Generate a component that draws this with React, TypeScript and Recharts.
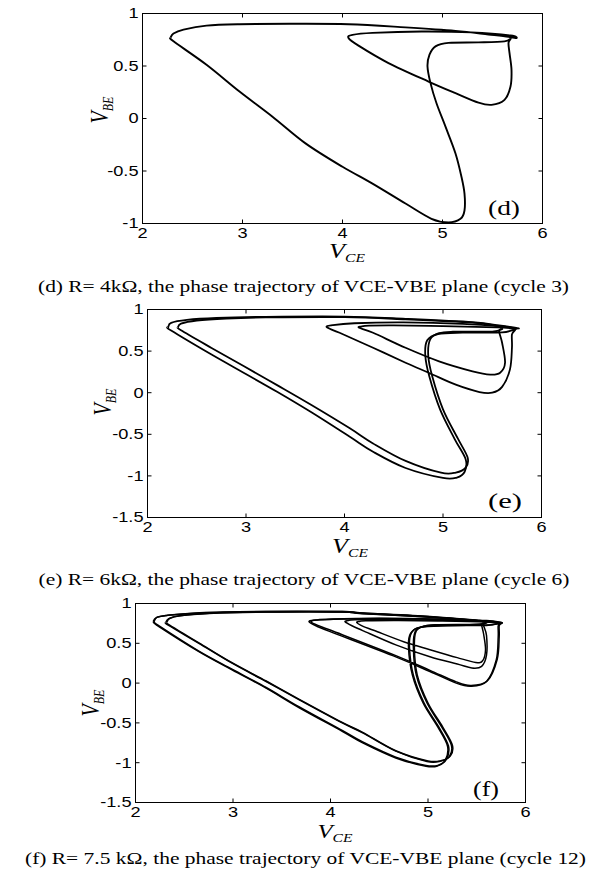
import { LineChart, Line, XAxis, YAxis } from "recharts";

// panel (d): R = 4k, cycle 3 — one closed orbit
const dX = [2.28, 2.31, 2.41, 2.64, 2.97, 3.47, 4.06, 4.63, 5.13, 5.46, 5.66, 5.74, 5.68, 5.29, 4.79, 4.3, 4.1, 4.06, 4.16, 4.46, 4.86, 5.13, 5.36, 5.49, 5.62, 5.68, 5.69, 5.67, 5.66, 5.68, 5.62, 5.36, 5.06, 4.93, 4.87, 4.85, 4.88, 4.94, 5.03, 5.13, 5.19, 5.22, 5.22, 5.18, 5.06, 4.89, 4.63, 4.3, 4.0, 3.63, 3.3, 2.97, 2.64, 2.31, 2.28];
const dY = [0.77, 0.81, 0.847, 0.885, 0.898, 0.902, 0.898, 0.868, 0.835, 0.8, 0.778, 0.765, 0.79, 0.82, 0.828, 0.815, 0.796, 0.767, 0.694, 0.528, 0.352, 0.241, 0.151, 0.13, 0.177, 0.304, 0.464, 0.624, 0.72, 0.76, 0.735, 0.725, 0.72, 0.687, 0.608, 0.496, 0.337, 0.145, -0.078, -0.333, -0.557, -0.716, -0.876, -0.955, -0.99, -0.955, -0.81, -0.62, -0.46, -0.237, 0.017, 0.257, 0.512, 0.735, 0.77];

// panel (e): R = 6k, cycle 6 — two passes
const eAX = [2.21, 2.24, 2.4, 2.7, 3.2, 4.0, 4.62, 5.3, 5.57, 5.77, 5.62, 5.2, 4.6, 4.1, 3.88, 3.82, 3.95, 4.29, 4.62, 4.86, 5.13, 5.37, 5.5, 5.6, 5.68, 5.7, 5.7, 5.73, 5.6, 5.2, 4.95, 4.84, 4.82, 4.86, 4.97, 5.12, 5.23, 5.22, 5.14, 5.0, 4.62, 4.29, 4.05, 3.66, 3.32, 2.98, 2.65, 2.24, 2.21];
const eAY = [0.787, 0.84, 0.875, 0.898, 0.912, 0.915, 0.888, 0.848, 0.808, 0.772, 0.795, 0.828, 0.845, 0.835, 0.812, 0.787, 0.72, 0.54, 0.36, 0.237, 0.096, 0.008, 0.0, 0.07, 0.28, 0.54, 0.7, 0.76, 0.725, 0.722, 0.705, 0.63, 0.45, 0.2, -0.2, -0.56, -0.8, -0.95, -1.02, -1.025, -0.905, -0.71, -0.527, -0.233, 0.008, 0.237, 0.458, 0.747, 0.787];
const eBX = [2.31, 2.34, 2.5, 2.8, 3.2, 4.0, 4.62, 5.3, 5.57, 5.75, 5.55, 5.0, 4.5, 4.25, 4.17, 4.15, 4.29, 4.62, 4.96, 5.3, 5.48, 5.58, 5.63, 5.6, 5.57, 5.6, 5.5, 5.1, 4.96, 4.87, 4.85, 4.89, 5.0, 5.15, 5.25, 5.23, 5.13, 4.98, 4.62, 4.29, 4.05, 3.66, 3.32, 2.98, 2.65, 2.34, 2.31];
const eBY = [0.787, 0.83, 0.868, 0.892, 0.905, 0.908, 0.882, 0.842, 0.802, 0.768, 0.785, 0.8, 0.808, 0.805, 0.795, 0.78, 0.72, 0.54, 0.377, 0.257, 0.217, 0.24, 0.36, 0.6, 0.74, 0.765, 0.735, 0.733, 0.715, 0.64, 0.45, 0.2, -0.2, -0.55, -0.78, -0.9, -0.96, -0.962, -0.82, -0.61, -0.425, -0.145, 0.088, 0.317, 0.538, 0.75, 0.787];

// panel (f): R = 7.5k, cycle 12 — four passes
const fAX = [2.18, 2.21, 2.31, 2.65, 3.34, 4.12, 4.33, 5.02, 5.53, 5.76, 5.6, 5.1, 4.5, 4.0, 3.83, 3.78, 3.85, 3.99, 4.67, 5.02, 5.29, 5.44, 5.6, 5.7, 5.72, 5.72, 5.74, 5.6, 5.2, 4.92, 4.82, 4.8, 4.84, 4.95, 5.1, 5.2, 5.18, 5.1, 4.98, 4.67, 4.33, 4.12, 3.68, 3.34, 2.99, 2.65, 2.24, 2.18];
const fAY = [0.77, 0.82, 0.848, 0.882, 0.898, 0.898, 0.88, 0.835, 0.785, 0.755, 0.78, 0.8, 0.81, 0.8, 0.79, 0.77, 0.72, 0.65, 0.33, 0.145, 0.0, -0.04, 0.02, 0.29, 0.58, 0.72, 0.75, 0.725, 0.72, 0.7, 0.62, 0.45, 0.1, -0.25, -0.55, -0.79, -0.96, -1.04, -1.045, -0.94, -0.75, -0.605, -0.31, -0.063, 0.166, 0.395, 0.71, 0.77];
const fDX = [2.19, 2.22, 2.32, 2.66, 3.34, 4.12, 4.33, 5.02, 5.53, 5.76, 5.6, 5.1, 4.5, 4.0, 3.85, 3.8, 3.87, 4.01, 4.67, 5.02, 5.29, 5.44, 5.61, 5.71, 5.73, 5.73, 5.75, 5.6, 5.2, 4.93, 4.83, 4.81, 4.85, 4.96, 5.11, 5.21, 5.19, 5.11, 4.98, 4.67, 4.33, 4.12, 3.68, 3.34, 2.99, 2.65, 2.25, 2.19];
const fDY = [0.772, 0.825, 0.85, 0.884, 0.9, 0.9, 0.882, 0.838, 0.788, 0.758, 0.785, 0.805, 0.815, 0.805, 0.792, 0.772, 0.725, 0.66, 0.345, 0.16, 0.015, -0.03, 0.03, 0.3, 0.58, 0.72, 0.752, 0.73, 0.725, 0.705, 0.63, 0.45, 0.1, -0.25, -0.55, -0.79, -0.955, -1.03, -1.035, -0.93, -0.74, -0.595, -0.3, -0.055, 0.175, 0.402, 0.712, 0.772];
const fBX = [2.31, 2.34, 2.45, 2.75, 3.34, 4.12, 4.33, 5.02, 5.53, 5.74, 5.55, 5.1, 4.6, 4.25, 4.18, 4.15, 4.22, 4.33, 4.67, 5.02, 5.3, 5.45, 5.55, 5.6, 5.6, 5.57, 5.6, 5.5, 5.1, 4.96, 4.87, 4.85, 4.88, 4.99, 5.14, 5.24, 5.22, 5.13, 4.99, 4.67, 4.33, 4.12, 3.68, 3.34, 2.99, 2.65, 2.34, 2.31];
const fBY = [0.76, 0.81, 0.845, 0.875, 0.892, 0.892, 0.872, 0.828, 0.78, 0.752, 0.775, 0.79, 0.8, 0.795, 0.785, 0.77, 0.72, 0.66, 0.48, 0.33, 0.24, 0.19, 0.21, 0.35, 0.6, 0.73, 0.755, 0.735, 0.73, 0.715, 0.65, 0.45, 0.1, -0.25, -0.55, -0.78, -0.92, -0.98, -0.985, -0.855, -0.625, -0.5, -0.21, 0.02, 0.25, 0.5, 0.725, 0.76];
const fCX = [2.32, 2.35, 2.46, 2.76, 3.34, 4.12, 4.33, 5.02, 5.53, 5.745, 5.55, 5.1, 4.7, 4.36, 4.3, 4.27, 4.34, 4.45, 4.75, 5.02, 5.3, 5.49, 5.56, 5.59, 5.57, 5.55, 5.58, 5.5, 5.1, 4.97, 4.88, 4.86, 4.89, 5.0, 5.15, 5.25, 5.23, 5.14, 5.0, 4.67, 4.33, 4.12, 3.68, 3.34, 2.99, 2.65, 2.35, 2.32];
const fCY = [0.762, 0.812, 0.847, 0.877, 0.894, 0.894, 0.874, 0.83, 0.782, 0.754, 0.77, 0.78, 0.785, 0.782, 0.775, 0.76, 0.71, 0.66, 0.52, 0.42, 0.32, 0.26, 0.28, 0.42, 0.62, 0.74, 0.756, 0.738, 0.733, 0.718, 0.655, 0.45, 0.1, -0.25, -0.55, -0.78, -0.915, -0.972, -0.978, -0.85, -0.618, -0.494, -0.204, 0.026, 0.256, 0.506, 0.728, 0.762];

const xTicks = [2, 3, 4, 5, 6];
const yTicksD = [-1, -0.5, 0, 0.5, 1];
const yTicksEF = [-1.5, -1, -0.5, 0, 0.5, 1];

const captionD = "(d) R= 4k\u03a9, the phase trajectory of VCE-VBE plane (cycle 3)";
const captionE = "(e) R= 6k\u03a9, the phase trajectory of VCE-VBE plane (cycle 6)";
const captionF = "(f) R= 7.5 k\u03a9, the phase trajectory of VCE-VBE plane (cycle 12)";

const zip = (xs: number[], ys: number[]) => xs.map((x, i) => ({ x, y: ys[i] }));

const serif = "'Liberation Serif', 'Times New Roman', serif";
const sans = "'Liberation Sans', Arial, Helvetica, sans-serif";

// plot boxes in page pixels (half-pixel edges keep 1px lines crisp)
const boxD = { l: 142.5, r: 542.5, t: 13.5, b: 223.5 };
const boxE = { l: 147.5, r: 541.5, t: 309.5, b: 517.5 };
const boxF = { l: 135.5, r: 525.5, t: 603.5, b: 802.5 };

// catmull-rom curve so the orbits come out smooth like the matlab trace
function smoothCurve(context: any) {
  let pts: number[][] = [];
  return {
    areaStart() {},
    areaEnd() {},
    lineStart() {
      pts = [];
    },
    lineEnd() {
      if (!pts.length) return;
      context.moveTo(pts[0][0], pts[0][1]);
      for (let i = 0; i < pts.length - 1; i++) {
        const p0 = pts[i - 1] || pts[i];
        const p1 = pts[i];
        const p2 = pts[i + 1];
        const p3 = pts[i + 2] || p2;
        context.bezierCurveTo(
          p1[0] + (p2[0] - p0[0]) / 6,
          p1[1] + (p2[1] - p0[1]) / 6,
          p2[0] - (p3[0] - p1[0]) / 6,
          p2[1] - (p3[1] - p1[1]) / 6,
          p2[0],
          p2[1]
        );
      }
    },
    point(x: number, y: number) {
      pts.push([+x, +y]);
    },
  };
}

function Tick(props: any) {
  const { x, y, payload, anchor, dy } = props;
  return (
    <text
      transform={`translate(${x},${y}) scale(1.3,1)`}
      textAnchor={anchor}
      dy={dy}
      fontFamily={sans}
      fontSize={14}
      fill="#000"
    >
      {payload.value}
    </text>
  );
}

type Box = { l: number; r: number; t: number; b: number };

type PanelProps = {
  top: number;
  box: Box;
  yDomain: [number, number];
  yTicks: number[];
  loops: { x: number; y: number }[][];
  sw: number;
};

function Panel({ top, box, yDomain, yTicks, loops, sw }: PanelProps) {
  const b = box.b - top;
  return (
    <div style={{ position: "absolute", left: 0, top }}>
      <LineChart
        width={599}
        height={b + 30}
        margin={{ top: box.t - top, right: 599 - box.r, left: 0, bottom: 0 }}
      >
        <XAxis
          dataKey="x"
          type="number"
          domain={[2, 6]}
          allowDataOverflow
          ticks={xTicks}
          interval={0}
          height={30}
          tickSize={-4}
          tickMargin={9}
          stroke="#000"
          tick={(p: any) => <Tick {...p} anchor="middle" dy="0.71em" />}
        />
        <YAxis
          type="number"
          domain={yDomain}
          allowDataOverflow
          ticks={yTicks}
          interval={0}
          width={box.l}
          tickSize={-4}
          tickMargin={8}
          stroke="#000"
          tick={(p: any) => <Tick {...p} anchor="end" dy="0.35em" />}
        />
        {loops.map((pts, i) => (
          <Line
            key={i}
            data={pts}
            dataKey="y"
            type={smoothCurve as any}
            stroke="#000"
            strokeWidth={sw}
            strokeLinejoin="round"
            dot={false}
            activeDot={false}
            isAnimationActive={false}
          />
        ))}
      </LineChart>
    </div>
  );
}

// matlab box outline with inward ticks on the top and right edges
function Frame({ box, yDomain, yTicks }: { box: Box; yDomain: [number, number]; yTicks: number[] }) {
  const [y0, y1] = yDomain;
  const px = (v: number) => box.l + ((v - 2) / 4) * (box.r - box.l);
  const py = (v: number) => box.t + ((y1 - v) / (y1 - y0)) * (box.b - box.t);
  const ticks =
    xTicks.map((t) => `M${px(t)},${box.t}v4`).join("") +
    yTicks.map((t) => `M${box.r},${py(t)}h-4`).join("");
  return (
    <g>
      <rect
        x={box.l}
        y={box.t}
        width={box.r - box.l}
        height={box.b - box.t}
        fill="none"
        stroke="#000"
        strokeWidth={1}
      />
      <path d={ticks} fill="none" stroke="#000" strokeWidth={1} />
    </g>
  );
}

function AxisNames({ cx, by, yx, yy, fs }: { cx: number; by: number; yx: number; yy: number; fs: number }) {
  return (
    <g fontFamily={serif} fontStyle="italic" fill="#000">
      <text transform={`translate(${cx},${by}) scale(1.3,1)`} textAnchor="middle" fontSize={fs}>
        V<tspan fontSize={12} dy={4}>CE</tspan>
      </text>
      <text transform={`translate(${yx},${yy}) scale(1.3,1) rotate(-90)`} textAnchor="middle" dy="0.35em" fontSize={20}>
        V<tspan fontSize={12} dy={4}>BE</tspan>
      </text>
    </g>
  );
}

export default function App() {
  return (
    <div style={{ position: "absolute", left: 0, top: 0, width: 599, height: 877, background: "#fff" }}>
      <Panel top={0} box={boxD} yDomain={[-1, 1]} yTicks={yTicksD} loops={[zip(dX, dY)]} sw={1.9} />
      <Panel
        top={295}
        box={boxE}
        yDomain={[-1.5, 1]}
        yTicks={yTicksEF}
        loops={[zip(eAX, eAY), zip(eBX, eBY)]}
        sw={1.8}
      />
      <Panel
        top={590}
        box={boxF}
        yDomain={[-1.5, 1]}
        yTicks={yTicksEF}
        loops={[zip(fAX, fAY), zip(fDX, fDY), zip(fBX, fBY), zip(fCX, fCY)]}
        sw={1.5}
      />
      <svg width={599} height={877} style={{ position: "absolute", left: 0, top: 0, pointerEvents: "none" }}>
        <Frame box={boxD} yDomain={[-1, 1]} yTicks={yTicksD} />
        <Frame box={boxE} yDomain={[-1.5, 1]} yTicks={yTicksEF} />
        <Frame box={boxF} yDomain={[-1.5, 1]} yTicks={yTicksEF} />
        <AxisNames cx={347} by={258} yx={99} yy={110} fs={20} />
        <AxisNames cx={350} by={553} yx={102} yy={402} fs={20} />
        <AxisNames cx={335} by={838} yx={90} yy={703} fs={19} />
        <g fontFamily={serif} fontSize={20} fill="#000">
          <text x={504} y={215} textAnchor="middle" textLength={32} lengthAdjust="spacingAndGlyphs">(d)</text>
          <text x={505} y={508} textAnchor="middle" textLength={34} lengthAdjust="spacingAndGlyphs">(e)</text>
          <text x={486} y={796} textAnchor="middle" textLength={26} lengthAdjust="spacingAndGlyphs">(f)</text>
        </g>
        <g fontFamily={serif} fontSize={16} fill="#000">
          <text x={303.5} y={292} textAnchor="middle" textLength={531} lengthAdjust="spacingAndGlyphs">{captionD}</text>
          <text x={304} y={585} textAnchor="middle" textLength={531} lengthAdjust="spacingAndGlyphs">{captionE}</text>
          <text x={305.5} y={864} textAnchor="middle" textLength={561} lengthAdjust="spacingAndGlyphs">{captionF}</text>
        </g>
      </svg>
    </div>
  );
}
